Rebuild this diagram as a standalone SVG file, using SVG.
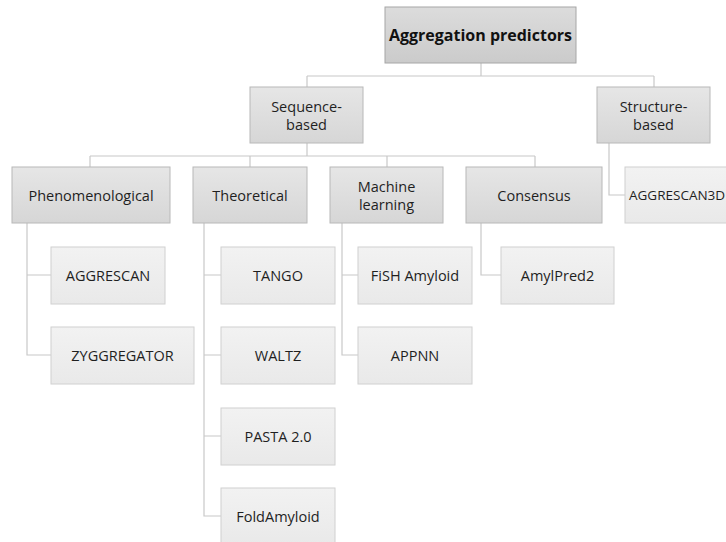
<svg xmlns="http://www.w3.org/2000/svg" width="726" height="542" viewBox="0 0 726 542">
<defs>
<linearGradient id="g1" x1="0" y1="0" x2="0" y2="1"><stop offset="0" stop-color="#e6e6e6"/><stop offset="1" stop-color="#d6d6d6"/></linearGradient>
<linearGradient id="g0" x1="0" y1="0" x2="0" y2="1"><stop offset="0" stop-color="#dcdcdc"/><stop offset="1" stop-color="#cbcbcb"/></linearGradient>
<linearGradient id="g2" x1="0" y1="0" x2="0" y2="1"><stop offset="0" stop-color="#f2f2f2"/><stop offset="1" stop-color="#e9e9e9"/></linearGradient>
</defs>
<style>
.b0{fill:url(#g0);stroke:#a6a6a6;stroke-width:1}
.b1{fill:url(#g1);stroke:#b8b8b8;stroke-width:1}
.b2{fill:url(#g2);stroke:#d0d0d0;stroke-width:1}
.t{font-family:"Open Sans","Noto Sans",sans-serif;font-size:14.5px;fill:#1f1f1f;text-anchor:middle;dominant-baseline:central}
.tb{font-family:"Open Sans","Noto Sans",sans-serif;font-size:16px;font-weight:bold;fill:#111;text-anchor:middle;dominant-baseline:central}
.c{fill:none;stroke:#c8c8c8;stroke-width:1.2}
</style>
<rect width="726" height="542" fill="#fff"/>
<g id="connectors">
<path class="c" d="M481,63V76M307,76H654M307,76V87M654,76V87"/>
<path class="c" d="M307,143V156M90,156H535M90,156V167M250,156V167M387,156V167M535,156V167"/>
<path class="c" d="M609,143V195H625"/>
<path class="c" d="M27,223V355H51M27,275H51"/>
<path class="c" d="M204,223V516H221M204,275H221M204,355H221M204,436H221"/>
<path class="c" d="M342,223V355H358M342,275H358"/>
<path class="c" d="M481,223V275H501"/>
</g>
<g id="root"><rect class="b0" x="385" y="7" width="191" height="56"/><text class="tb" x="480.5" y="35">Aggregation predictors</text></g>
<g id="sequence"><rect class="b1" x="250" y="87" width="113" height="56"/><text class="t" x="306.5" y="106">Sequence-</text><text class="t" x="306.5" y="124">based</text></g>
<g id="structure"><rect class="b1" x="597" y="87" width="113" height="56"/><text class="t" x="653.5" y="106">Structure-</text><text class="t" x="653.5" y="124">based</text></g>
<g id="aggrescan3d"><rect class="b2" x="625" y="167" width="110" height="56"/><text class="t" x="629" y="195" style="text-anchor:start;font-size:13.5px">AGGRESCAN3D</text></g>
<g id="phenomenological"><rect class="b1" x="12" y="167" width="158" height="56"/><text class="t" x="91" y="195">Phenomenological</text></g>
<g id="theoretical"><rect class="b1" x="193" y="167" width="114" height="56"/><text class="t" x="250" y="195">Theoretical</text></g>
<g id="machine-learning"><rect class="b1" x="330" y="167" width="113" height="56"/><text class="t" x="386.5" y="186">Machine</text><text class="t" x="386.5" y="204">learning</text></g>
<g id="consensus"><rect class="b1" x="466" y="167" width="136" height="56"/><text class="t" x="534" y="195">Consensus</text></g>
<g id="aggrescan"><rect class="b2" x="51" y="247" width="114" height="57"/><text class="t" x="108" y="275">AGGRESCAN</text></g>
<g id="zyggregator"><rect class="b2" x="51" y="327" width="143" height="57"/><text class="t" x="122.5" y="355">ZYGGREGATOR</text></g>
<g id="tango"><rect class="b2" x="221" y="247" width="114" height="57"/><text class="t" x="278" y="275">TANGO</text></g>
<g id="waltz"><rect class="b2" x="221" y="327" width="114" height="57"/><text class="t" x="278" y="355">WALTZ</text></g>
<g id="pasta"><rect class="b2" x="221" y="408" width="114" height="57"/><text class="t" x="278" y="436">PASTA 2.0</text></g>
<g id="foldamyloid"><rect class="b2" x="221" y="488" width="114" height="57"/><text class="t" x="278" y="516">FoldAmyloid</text></g>
<g id="fish"><rect class="b2" x="358" y="247" width="114" height="57"/><text class="t" x="415" y="275">FiSH Amyloid</text></g>
<g id="appnn"><rect class="b2" x="358" y="327" width="114" height="57"/><text class="t" x="415" y="355">APPNN</text></g>
<g id="amylpred2"><rect class="b2" x="501" y="247" width="113" height="57"/><text class="t" x="557.5" y="275">AmylPred2</text></g>
</svg>
